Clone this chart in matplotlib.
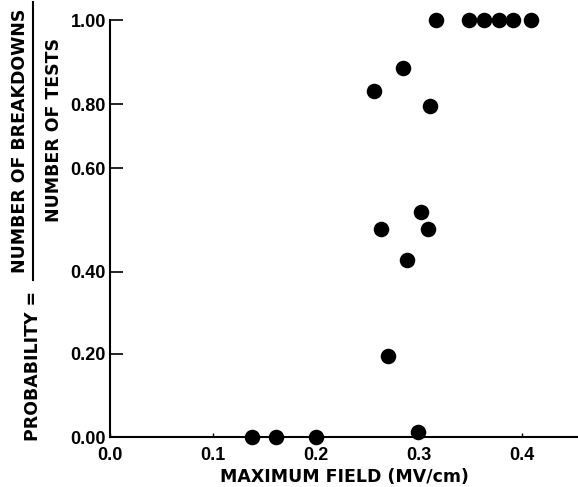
import numpy as np
import matplotlib
matplotlib.use("Agg")
import matplotlib.pyplot as plt
from matplotlib.lines import Line2D

# Data
field = [0.138, 0.161, 0.200, 0.299,
         0.270, 0.288, 0.263, 0.309, 0.302,
         0.311, 0.256, 0.284,
         0.3165, 0.3485, 0.363, 0.378, 0.391, 0.409]
probability = [0.0, 0.0, 0.0, 0.012,
               0.195, 0.423, 0.482, 0.482, 0.516,
               0.795, 0.832, 0.885,
               1.0, 1.0, 1.0, 1.0, 1.0, 1.0]

y_ticks = [0.0, 0.2, 0.4, 0.6, 0.8, 1.0]
y_tick_labels = ["0.00", "0.20", "0.40", "0.60", "0.80", "1.00"]
x_ticks = [0.0, 0.1, 0.2, 0.3, 0.4]
x_tick_labels = ["0.0", "0.1", "0.2", "0.3", "0.4"]

# Non-uniform vertical axis as drawn in the original (relative tick heights)
tick_heights = np.array([0, 83, 165, 269, 333, 417], dtype=float)
tv = np.array(y_ticks)

def fwd(v):
    v = np.asarray(v, dtype=float)
    return np.interp(v, tv, tick_heights)

def inv(p):
    p = np.asarray(p, dtype=float)
    return np.interp(p, tick_heights, tv)

plt.rcParams['font.family'] = ['Liberation Sans', 'DejaVu Sans']
plt.rcParams['font.weight'] = 'bold'
label_font = ['DejaVu Sans']

W, H = 578, 487
fig = plt.figure(figsize=(W / 100, H / 100), dpi=100)
ax = fig.add_axes([110 / W, 50 / H, (W - 110) / W, (437 - 20) / H])

ax.set_yscale('function', functions=(fwd, inv))
ax.scatter(field, probability, s=125, color='black', zorder=5, clip_on=False,
           linewidths=0)

ax.set_xlim(0, (W - 110) / 1030)
ax.set_ylim(0, 1)
ax.set_xticks(x_ticks)
ax.set_xticklabels(x_tick_labels)
ax.set_yticks(y_ticks)
ax.set_yticklabels(y_tick_labels)
ax.minorticks_off()

for s in ['top', 'right']:
    ax.spines[s].set_visible(False)
for s in ['left', 'bottom']:
    ax.spines[s].set_linewidth(1.5)

ax.tick_params(axis='y', direction='in', length=9, width=1.2, pad=3,
               labelsize=13)
ax.tick_params(axis='x', direction='in', length=3, width=1.0, pad=7,
               labelsize=13)
for lab in ax.get_xticklabels() + ax.get_yticklabels():
    lab.set_fontweight('bold')

ax.set_xlabel("MAXIMUM FIELD (MV/cm)", fontsize=12.5, fontweight='bold',
              family=label_font, labelpad=3)

def fx(x):
    return x / W

def fy(y):
    return 1 - y / H

fig.text(fx(33), fy(366), "PROBABILITY =", rotation=90, ha='center',
         va='center', fontsize=12.5, fontweight='bold', family=label_font)
fig.text(fx(20), fy(141), "NUMBER OF BREAKDOWNS", rotation=90, ha='center',
         va='center', fontsize=12.5, fontweight='bold', family=label_font)
fig.text(fx(54), fy(130), "NUMBER OF TESTS", rotation=90, ha='center',
         va='center', fontsize=12.5, fontweight='bold', family=label_font)
fig.add_artist(Line2D([fx(33), fx(33)], [fy(2), fy(280)], color='black',
                      lw=1.5, transform=fig.transFigure))

fig.savefig("out.png", dpi=100)
